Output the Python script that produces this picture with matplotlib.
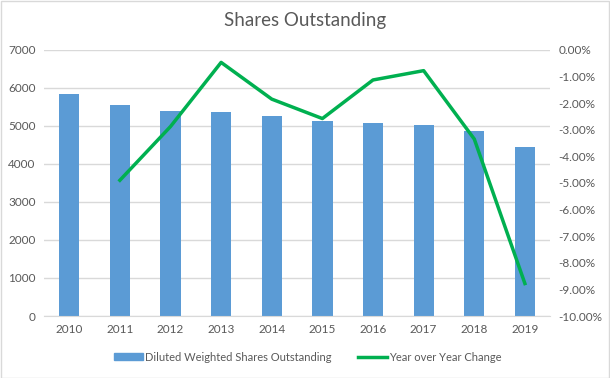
import matplotlib
matplotlib.use("Agg")
import matplotlib.pyplot as plt
from matplotlib.ticker import FuncFormatter, MultipleLocator
from matplotlib.patches import Rectangle

# Datos
years = ["2010", "2011", "2012", "2013", "2014", "2015", "2016", "2017", "2018", "2019"]
shares = [5845, 5555, 5400, 5370, 5265, 5130, 5080, 5030, 4870, 4450]
yoy_years = years[1:]
yoy = [-4.9, -2.88, -0.47, -1.85, -2.58, -1.13, -0.78, -3.35, -8.78]

plt.rcParams["font.family"] = ["Lato", "DejaVu Sans"]

bar_color = "#5B9BD5"
line_color = "#00B050"
text_color = "#595959"
grid_color = "#D9D9D9"

fig = plt.figure(figsize=(6.1, 3.78), dpi=100)
ax = fig.add_axes([0.072, 0.164, 0.83, 0.704])

x = range(len(years))
ax.bar(x, shares, width=0.4, color=bar_color, zorder=2)
ax.set_ylim(0, 7000)
ax.set_xlim(-0.5, len(years) - 0.5)
ax.yaxis.set_major_locator(MultipleLocator(1000))
ax.set_xticks(list(x))
ax.set_xticklabels(years)
ax.grid(axis="y", color=grid_color, linewidth=1, zorder=0)
ax.tick_params(length=0, labelsize=8.5, labelcolor=text_color, pad=6)
for s in ["top", "right", "left"]:
    ax.spines[s].set_visible(False)
ax.spines["bottom"].set_color(grid_color)

# Eje derecho: variación anual
ax2 = ax.twinx()
xi = [years.index(y) for y in yoy_years]
ax2.plot(xi, yoy, color=line_color, linewidth=2.5, zorder=3)
ax2.set_ylim(-10, 0)
ax2.yaxis.set_major_locator(MultipleLocator(1))
ax2.yaxis.set_major_formatter(FuncFormatter(lambda v, p: f"{v:.2f}%"))
ax2.tick_params(length=0, labelsize=8.5, labelcolor=text_color, pad=6)
for s in ax2.spines.values():
    s.set_visible(False)

fig.text(0.5, 0.945, "Shares Outstanding", ha="center", va="center",
         fontsize=13.5, color=text_color)

# Leyenda
handles = [Rectangle((0, 0), 1, 1, color=bar_color),
           plt.Line2D([], [], color=line_color, linewidth=2.5)]
fig.legend(handles, ["Diluted Weighted Shares Outstanding", "Year over Year Change"],
           loc="center", bbox_to_anchor=(0.505, 0.055), ncol=2, frameon=False,
           fontsize=8, labelcolor=text_color, handlelength=2.6, handleheight=0.6,
           columnspacing=2.4, handletextpad=0.2)

# Borde de la figura
fig.patches.append(Rectangle((0.001, 0.001), 0.997, 0.997, transform=fig.transFigure,
                             fill=False, edgecolor="#D9D9D9", linewidth=1))

fig.savefig("out.png", dpi=100)
